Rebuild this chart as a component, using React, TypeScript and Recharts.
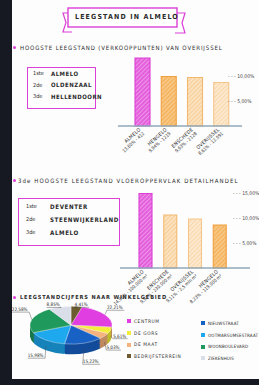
import React from 'react';
import { BarChart, Bar, XAxis, YAxis, Cell, PieChart, Pie } from 'recharts';

const FONT = "'DejaVu Sans Condensed', 'DejaVu Sans', sans-serif";
const MAGENTA = '#dc3fd6';
const INKT = '#2b2b2b';

// hoogste leegstand verkooppunten
const plaatsen1 = ['ALMELO', 'HENGELO', 'ENSCHEDE', 'OVERIJSSEL'];
const leegstand1 = [13.6, 9.9, 9.7, 8.7];
const onderschrift1 = ['13,60% - 412', '9,94% - 1219', '9,63% - 2128', '8,61% - 12.591'];
const ticks1 = [5, 10];

// leegstand vloeroppervlak detailhandel
const plaatsen2 = ['ALMELO', 'ENSCHEDE', 'OVERIJSSEL', 'HENGELO'];
const leegstand2 = [14.9, 10.6, 9.8, 8.6];
const onderschrift2 = ['14,96% - 100.000 m²', '9,97% - 230.000 m²', '9,11% - 2,5 mln m²', '8,23% - 119.000 m²'];
const ticks2 = [5, 10, 15];

const rangen = ['1ste', '2de', '3de'];
const top1 = ['ALMELO', 'OLDENZAAL', 'HELLENDOORN'];
const top2 = ['DEVENTER', 'STEENWIJKERLAND', 'ALMELO'];

// winkelgebieden
const gebieden = ['CENTRUM', 'DE GORS', 'DE MAAT', 'BEDRIJFSTERREIN', 'NIEUWSTRAAT', 'OOTMARSUMSESTRAAT', 'WOONBOULEVARD', 'ZIEKENHUIS'];
const aandeel = [22.21, 5.61, 5.03, 4.41, 15.22, 15.98, 22.58, 8.85];
const gebiedKleuren = ['#e03ee0', '#f4ee3a', '#f6b27c', '#6b5b2e', '#1862c6', '#1ea8ee', '#1f9a5c', '#d9dee8'];
const pieVolgorde = ['BEDRIJFSTERREIN', 'CENTRUM', 'DE GORS', 'DE MAAT', 'NIEUWSTRAAT', 'OOTMARSUMSESTRAAT', 'WOONBOULEVARD', 'ZIEKENHUIS'];

const data1 = plaatsen1.map((p, i) => ({ name: p, waarde: leegstand1[i] }));
const data2 = plaatsen2.map((p, i) => ({ name: p, waarde: leegstand2[i] }));
const pieData = pieVolgorde.map((n) => {
  const i = gebieden.indexOf(n);
  return { name: n, value: aandeel[i], kleur: gebiedKleuren[i] };
});

const vulling1 = ['url(#h-mag)', 'url(#h-or)', 'url(#h-lo)', 'url(#h-lo2)'];
const rand1 = [MAGENTA, '#f0a040', '#f3b870', '#f5c58a'];
const vulling2 = ['url(#h-mag)', 'url(#h-lo)', 'url(#h-lo2)', 'url(#h-or)'];
const rand2 = [MAGENTA, '#f3b870', '#f5c58a', '#f0a040'];

const S = 0.46; // pie kanteling
const DIEPTE = 22;
const lagen = Array.from({ length: 11 }, (_, k) => DIEPTE - k * 2);

function donker(hex: string, f: number) {
  const n = parseInt(hex.slice(1), 16);
  const r = Math.round(((n >> 16) & 255) * f);
  const g = Math.round(((n >> 8) & 255) * f);
  const b = Math.round((n & 255) * f);
  return `rgb(${r},${g},${b})`;
}

const procent = (v: number) => v.toFixed(2).replace('.', ',') + '%';

const maakXTick = (onder: string[]) => (props: any) => {
  const { x, y, payload, index } = props;
  return (
    <g transform={`translate(${x - 1},${y + 4}) rotate(-42)`}>
      <text textAnchor="end" fontSize={5} fontFamily={FONT} fill={INKT} letterSpacing={0.3}>{payload.value}</text>
      <text y={5.5} textAnchor="end" fontSize={4.6} fontFamily={FONT} fill={INKT}>{onder[index]}</text>
    </g>
  );
};

const maakYTick = (shift: number) => (props: any) => {
  const { x, y, payload } = props;
  return (
    <text x={x - shift} y={y} dy={2} fontSize={5} fontFamily={FONT} fill="#444">
      {`- - - ${payload.value.toFixed(2).replace('.', ',')}%`}
    </text>
  );
};

const pieLabel = (p: any) => {
  const RAD = Math.PI / 180;
  const c = Math.cos(-p.midAngle * RAD);
  const s = Math.sin(-p.midAngle * RAD);
  const R = p.outerRadius;
  const ex = p.cx + R * c;
  const ey = p.cy + R * s + (s > 0 ? DIEPTE * 0.6 : 0);
  // verticale plek in paginapixels, omgezet naar de geschaalde ruimte
  const midden = s > 0 ? 38 * s : -(14 + 7 * Math.abs(s));
  const rechts = c >= 0;
  const txt = procent(p.value);
  const breedte = txt.length * 2.9;
  const ankerX = p.cx + (R + 6) * c + (rechts ? -3 : 3);
  const x0 = rechts ? ankerX : ankerX - breedte;
  const x1 = x0 + breedte;
  const lijnY = p.cy + (midden + 3) / S;
  const haak = rechts ? x0 : x1;
  return (
    <g>
      <polyline points={`${ex},${ey} ${haak},${lijnY} ${rechts ? x1 : x0},${lijnY}`} stroke="#444" strokeWidth={0.6} fill="none" vectorEffect="non-scaling-stroke" />
      <text transform={`translate(${x0},${p.cy + (midden + 1.8) / S}) scale(1,${1 / S})`} fontSize={4.6} fontFamily={FONT} fill={INKT}>
        {txt}
      </text>
    </g>
  );
};

const Hatch = ({ id, bg, line }: { id: string; bg: string; line: string }) => (
  <pattern id={id} width={3} height={3} patternUnits="userSpaceOnUse" patternTransform="rotate(45)">
    <rect width={3} height={3} fill={bg} />
    <line x1={0} y1={0} x2={0} y2={3} stroke={line} strokeWidth={1.3} />
  </pattern>
);

const tekst = (extra: React.CSSProperties): React.CSSProperties => ({
  position: 'absolute',
  whiteSpace: 'nowrap',
  lineHeight: 1,
  ...extra,
});

const Bullet = ({ x, y }: { x: number; y: number }) => (
  <div style={{ position: 'absolute', left: x, top: y, width: 3, height: 3, borderRadius: 2, background: MAGENTA }} />
);

export default function App() {
  return (
    <div style={{ position: 'absolute', left: 0, top: 0, width: 259, height: 385, background: '#fdfdfd', overflow: 'hidden', fontFamily: FONT, color: INKT }}>
      <svg width={0} height={0} style={{ position: 'absolute' }}>
        <defs>
          <Hatch id="h-mag" bg="#e45fdc" line="#f4b3ef" />
          <Hatch id="h-or" bg="#f8c683" line="#f2a13c" />
          <Hatch id="h-lo" bg="#fbe2c0" line="#f6c27e" />
          <Hatch id="h-lo2" bg="#fde9cf" line="#f7cc95" />
        </defs>
      </svg>

      {/* donkere achtergrond */}
      <div style={{ position: 'absolute', left: 0, top: 0, width: 12, height: 385, background: '#161922' }} />
      <div style={{ position: 'absolute', left: 0, top: 379, width: 259, height: 6, background: '#161922' }} />

      {/* titel */}
      <svg style={{ position: 'absolute', left: 60, top: 5 }} width={130} height={30}>
        <polyline points="12,8 3,8 6,17.5 3,27 12,27" fill="#fff" stroke={MAGENTA} strokeWidth={1.2} />
        <polyline points="115,8 125,8 122,18 125,28 115,28" fill="#fff" stroke={MAGENTA} strokeWidth={1.2} />
        <rect x={8} y={3} width={109} height={19} fill="#fff" stroke={MAGENTA} strokeWidth={1.4} />
      </svg>
      <div style={tekst({ left: 75, top: 14, fontSize: 7, letterSpacing: 1.15, fontWeight: 600 })}>LEEGSTAND IN ALMELO</div>

      {/* deel 1 */}
      <Bullet x={13} y={46} />
      <div style={tekst({ left: 20, top: 45, fontSize: 6, letterSpacing: 0.88 })}>HOOGSTE LEEGSTAND (VERKOOPPUNTEN) VAN OVERIJSSEL</div>
      <div style={{ position: 'absolute', left: 27, top: 67, width: 67, height: 40, border: `1.2px solid ${MAGENTA}` }} />
      {rangen.map((r, i) => (
        <React.Fragment key={r}>
          <div style={tekst({ left: 33, top: 71 + i * 11.7, fontSize: 5.5 })}>{r}</div>
          <div style={tekst({ left: 51, top: 70.5 + i * 11.7, fontSize: 6, letterSpacing: 0.5, fontWeight: 600 })}>{top1[i]}</div>
        </React.Fragment>
      ))}
      <div style={{ position: 'absolute', left: 104, top: 46 }}>
        <BarChart width={155} height={120} data={data1} margin={{ top: 5, right: 0, left: 14, bottom: 0 }}>
          <XAxis dataKey="name" interval={0} height={40} tickLine={false} tickSize={0} tickMargin={0}
            axisLine={{ stroke: '#8fa9b9', strokeWidth: 1.5 }} padding={{ left: 11, right: 8 }} tick={maakXTick(onderschrift1)} />
          <YAxis orientation="right" width={17} domain={[0, 15]} ticks={ticks1} interval={0} axisLine={false} tickLine={false}
            tickSize={0} tickMargin={0} tick={maakYTick(14)} />
          <Bar dataKey="waarde" barSize={15} isAnimationActive={false} strokeWidth={1.1}>
            {data1.map((d, i) => (
              <Cell key={d.name} fill={vulling1[i]} stroke={rand1[i]} />
            ))}
          </Bar>
        </BarChart>
      </div>

      {/* deel 2 */}
      <Bullet x={13} y={179} />
      <div style={tekst({ left: 18, top: 178, fontSize: 6, letterSpacing: 1.1 })}>3de HOOGSTE LEEGSTAND VLOEROPPERVLAK DETAILHANDEL</div>
      <div style={{ position: 'absolute', left: 18, top: 198, width: 100, height: 46, border: `1.2px solid ${MAGENTA}` }} />
      {rangen.map((r, i) => (
        <React.Fragment key={r}>
          <div style={tekst({ left: 26, top: 204 + i * 13, fontSize: 5.5 })}>{r}</div>
          <div style={tekst({ left: 50, top: 203.5 + i * 13, fontSize: 6.2, letterSpacing: 0.6, fontWeight: 600 })}>{top2[i]}</div>
        </React.Fragment>
      ))}
      <div style={{ position: 'absolute', left: 100, top: 188 }}>
        <BarChart width={159} height={120} data={data2} margin={{ top: 5, right: 0, left: 20, bottom: 0 }}>
          <XAxis dataKey="name" interval={0} height={40} tickLine={false} tickSize={0} tickMargin={0}
            axisLine={{ stroke: '#8fa9b9', strokeWidth: 1.5 }} padding={{ left: 13, right: 18 }} tick={maakXTick(onderschrift2)} />
          <YAxis orientation="right" width={9} domain={[0, 15]} ticks={ticks2} interval={0} axisLine={false} tickLine={false}
            tickSize={0} tickMargin={0} tick={maakYTick(17)} />
          <Bar dataKey="waarde" barSize={13} isAnimationActive={false} strokeWidth={1.1}>
            {data2.map((d, i) => (
              <Cell key={d.name} fill={vulling2[i]} stroke={rand2[i]} />
            ))}
          </Bar>
        </BarChart>
      </div>

      {/* deel 3 */}
      <Bullet x={13} y={296} />
      <div style={tekst({ left: 20, top: 295, fontSize: 5.6, letterSpacing: 0.87, fontWeight: 700 })}>LEEGSTANDCIJFERS NAAR WINKELGEBIED</div>
      <div style={{ position: 'absolute', left: 6, top: 325 - 70 * S, width: 130, height: 170, transform: `scaleY(${S})`, transformOrigin: 'top left' }}>
        <PieChart width={130} height={170} margin={{ top: 0, right: 0, bottom: 0, left: 0 }}>
          {lagen.map((off) => (
            <Pie key={off} data={pieData} dataKey="value" cx={65} cy={70 + off} outerRadius={41} startAngle={90} endAngle={-270}
              stroke="none" isAnimationActive={false}>
              {pieData.map((d) => (
                <Cell key={d.name} fill={donker(d.kleur, 0.78)} />
              ))}
            </Pie>
          ))}
          <Pie data={pieData} dataKey="value" cx={65} cy={70} outerRadius={41} startAngle={90} endAngle={-270}
            stroke="#ffffff" strokeWidth={0.5} isAnimationActive={false} label={pieLabel} labelLine={false}>
            {pieData.map((d) => (
              <Cell key={d.name} fill={d.kleur} />
            ))}
          </Pie>
        </PieChart>
      </div>
      {[0, 1].map((kol) => (
        <div key={kol} style={{ position: 'absolute', left: kol === 0 ? 127 : 201, top: kol === 0 ? 315.5 : 317.5 }}>
          {gebieden.slice(kol * 4, kol * 4 + 4).map((g, i) => (
            <div key={g} style={{ display: 'flex', alignItems: 'center', height: 11.7 }}>
              <div style={{ width: 4, height: 4, background: gebiedKleuren[kol * 4 + i], marginRight: 3 }} />
              <span style={{ fontSize: kol === 0 ? 4.8 : 4.5, letterSpacing: kol === 0 ? 0.6 : 0.15, whiteSpace: 'nowrap' }}>{g}</span>
            </div>
          ))}
        </div>
      ))}
    </div>
  );
}
